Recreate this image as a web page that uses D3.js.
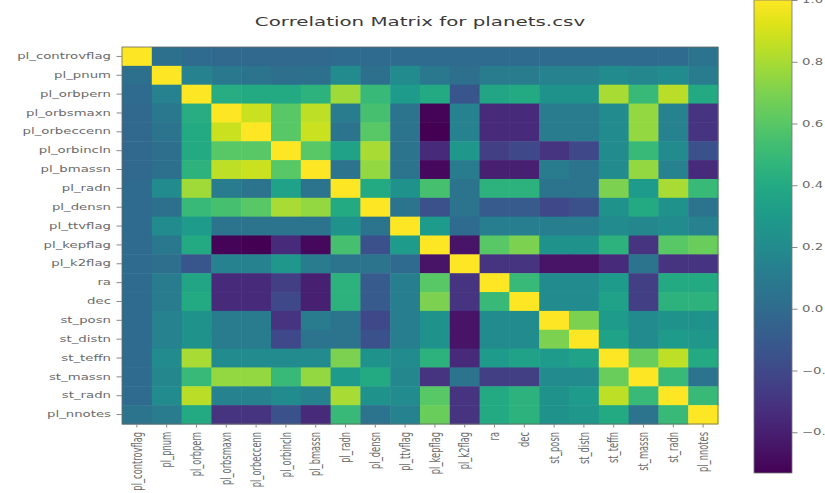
<!DOCTYPE html>
<html>
<head>
<meta charset="utf-8">
<script src="https://cdn.jsdelivr.net/npm/d3@7"></script>
<style>
  html, body { margin: 0; padding: 0; background: #fff; }
  svg { display: block; font-family: "DejaVu Sans", sans-serif; }
</style>
</head>
<body>
<div id="chart"></div>
<script>
// column names of planets.csv
const labels = [
  'pl_controvflag', 'pl_pnum', 'pl_orbpern', 'pl_orbsmaxn', 'pl_orbeccenn',
  'pl_orbincln', 'pl_bmassn', 'pl_radn', 'pl_densn', 'pl_ttvflag',
  'pl_kepflag', 'pl_k2flag', 'ra', 'dec', 'st_posn',
  'st_distn', 'st_teffn', 'st_massn', 'st_radn', 'pl_nnotes'
];

// correlation matrix, one row per column
const corr = [
  [1.00, 0.03, 0.00, -0.02, -0.02, -0.02, -0.02, 0.00, 0.00, 0.00, 0.00, 0.00, 0.00, 0.00, 0.00, 0.00, 0.00, 0.00, 0.00, 0.05],
  [0.03, 1.00, 0.15, 0.08, 0.05, 0.02, 0.03, 0.20, 0.03, 0.20, 0.08, 0.02, 0.10, 0.10, 0.15, 0.15, 0.20, 0.18, 0.20, 0.10],
  [0.00, 0.15, 1.00, 0.42, 0.40, 0.40, 0.45, 0.78, 0.50, 0.30, 0.40, -0.12, 0.37, 0.40, 0.25, 0.25, 0.80, 0.50, 0.84, 0.40],
  [-0.02, 0.08, 0.42, 1.00, 0.88, 0.60, 0.85, 0.10, 0.55, 0.05, -0.52, 0.15, -0.35, -0.35, 0.10, 0.10, 0.20, 0.75, 0.15, -0.30],
  [-0.02, 0.05, 0.40, 0.88, 1.00, 0.60, 0.88, 0.05, 0.60, 0.05, -0.532, 0.15, -0.35, -0.35, 0.10, 0.10, 0.20, 0.75, 0.15, -0.30],
  [-0.02, 0.02, 0.40, 0.60, 0.60, 1.00, 0.60, 0.35, 0.80, 0.05, -0.35, 0.28, -0.25, -0.20, -0.30, -0.20, 0.20, 0.50, 0.20, -0.15],
  [-0.02, 0.03, 0.45, 0.85, 0.88, 0.60, 1.00, 0.05, 0.75, 0.05, -0.50, 0.10, -0.40, -0.40, 0.10, 0.05, 0.20, 0.75, 0.15, -0.35],
  [0.00, 0.20, 0.78, 0.10, 0.05, 0.35, 0.05, 1.00, 0.40, 0.25, 0.55, 0.05, 0.45, 0.45, 0.05, 0.05, 0.70, 0.30, 0.80, 0.50],
  [0.00, 0.03, 0.50, 0.55, 0.60, 0.80, 0.75, 0.40, 1.00, 0.05, -0.15, 0.05, -0.10, -0.10, -0.20, -0.15, 0.25, 0.40, 0.25, 0.05],
  [0.00, 0.20, 0.30, 0.05, 0.05, 0.05, 0.05, 0.25, 0.05, 1.00, 0.30, 0.00, 0.12, 0.12, 0.12, 0.12, 0.20, 0.18, 0.20, 0.15],
  [0.00, 0.08, 0.40, -0.52, -0.532, -0.35, -0.50, 0.55, -0.15, 0.30, 1.00, -0.45, 0.60, 0.70, 0.25, 0.25, 0.45, -0.30, 0.60, 0.65],
  [0.00, 0.02, -0.12, 0.15, 0.15, 0.28, 0.10, 0.05, 0.05, 0.00, -0.45, 1.00, -0.30, -0.30, -0.45, -0.45, -0.35, 0.05, -0.30, -0.30],
  [0.00, 0.10, 0.37, -0.35, -0.35, -0.25, -0.40, 0.45, -0.10, 0.12, 0.60, -0.30, 1.00, 0.50, 0.20, 0.20, 0.30, -0.25, 0.40, 0.40],
  [0.00, 0.10, 0.40, -0.35, -0.35, -0.20, -0.40, 0.45, -0.10, 0.12, 0.70, -0.30, 0.50, 1.00, 0.20, 0.20, 0.35, -0.25, 0.45, 0.45],
  [0.00, 0.15, 0.25, 0.10, 0.10, -0.30, 0.10, 0.05, -0.20, 0.12, 0.25, -0.45, 0.20, 0.20, 1.00, 0.70, 0.30, 0.20, 0.25, 0.25],
  [0.00, 0.15, 0.25, 0.10, 0.10, -0.20, 0.05, 0.05, -0.15, 0.12, 0.25, -0.45, 0.20, 0.20, 0.70, 1.00, 0.35, 0.20, 0.30, 0.28],
  [0.00, 0.20, 0.80, 0.20, 0.20, 0.20, 0.20, 0.70, 0.25, 0.20, 0.45, -0.35, 0.30, 0.35, 0.30, 0.35, 1.00, 0.65, 0.85, 0.40],
  [0.00, 0.18, 0.50, 0.75, 0.75, 0.50, 0.75, 0.30, 0.40, 0.18, -0.30, 0.05, -0.25, -0.25, 0.20, 0.20, 0.65, 1.00, 0.50, 0.05],
  [0.00, 0.20, 0.84, 0.15, 0.15, 0.20, 0.15, 0.80, 0.25, 0.20, 0.60, -0.30, 0.40, 0.45, 0.25, 0.30, 0.85, 0.50, 1.00, 0.50],
  [0.05, 0.10, 0.40, -0.30, -0.30, -0.15, -0.35, 0.50, 0.05, 0.15, 0.65, -0.30, 0.40, 0.45, 0.25, 0.28, 0.40, 0.05, 0.50, 1.00]
];

const cbTicks = [-0.4, -0.2, 0.0, 0.2, 0.4, 0.6, 0.8, 1.0];

const title = 'Correlation Matrix for planets.csv';

const width = 825, height = 493;
// the picture is stretched sideways, so text gets the same squash
const sx = 1.6;

const svg = d3.select('#chart').append('svg')
  .attr('width', width)
  .attr('height', height);

const x = d3.scaleBand().domain(labels).range([122, 718]);
const y = d3.scaleBand().domain(labels).range([47, 424]);

const vmin = d3.min(corr.flat());
const vmax = d3.max(corr.flat());
const color = d3.scaleSequential(d3.interpolateViridis).domain([vmin, vmax]);

// cells
const cells = [];
corr.forEach((row, i) => row.forEach((v, j) => cells.push({ r: labels[i], c: labels[j], v })));

svg.append('g').selectAll('rect')
  .data(cells)
  .enter()
  .append('rect')
  .attr('x', d => x(d.c))
  .attr('y', d => y(d.r))
  .attr('width', x.bandwidth() + 0.5)
  .attr('height', y.bandwidth() + 0.5)
  .attr('fill', d => color(d.v));

svg.append('rect')
  .attr('x', 122).attr('y', 47)
  .attr('width', 596).attr('height', 377)
  .attr('fill', 'none')
  .attr('stroke', '#666')
  .attr('stroke-width', 0.8);

// y axis
const yAxis = svg.append('g')
  .attr('transform', 'translate(122,0)')
  .call(d3.axisLeft(y).tickSize(5.5).tickPadding(0));
yAxis.select('.domain').remove();
yAxis.selectAll('line').attr('stroke', '#888');
yAxis.selectAll('text')
  .attr('x', null)
  .attr('transform', `translate(-11,0) scale(${sx},1)`)
  .attr('font-size', 8.3)
  .attr('font-family', 'DejaVu Sans')
  .attr('fill', '#6a6a6a');

// x axis
const xAxis = svg.append('g')
  .attr('transform', 'translate(0,424)')
  .call(d3.axisBottom(x).tickSize(3.5).tickPadding(0));
xAxis.select('.domain').remove();
xAxis.selectAll('line').attr('stroke', '#888');
xAxis.selectAll('text')
  .attr('y', null)
  .attr('dy', '0.35em')
  .attr('text-anchor', 'end')
  .attr('transform', `translate(0,8) scale(${sx},1) rotate(-90)`)
  .attr('font-size', 8.3)
  .attr('font-family', 'DejaVu Sans')
  .attr('fill', '#6a6a6a');

// title
svg.append('text')
  .attr('transform', `translate(420,26) scale(${sx},1)`)
  .attr('text-anchor', 'middle')
  .attr('font-size', 12.4)
  .attr('fill', '#3a3a3a')
  .text(title);

// colorbar
const cbX = 754, cbW = 38;
const cbY = d3.scaleLinear().domain([vmin, vmax]).range([473, 0]);

const grad = svg.append('defs').append('linearGradient')
  .attr('id', 'cbgrad')
  .attr('x1', 0).attr('y1', 1).attr('x2', 0).attr('y2', 0);
d3.range(0, 1.0001, 0.05).forEach(t => {
  grad.append('stop')
    .attr('offset', t)
    .attr('stop-color', d3.interpolateViridis(t));
});

svg.append('rect')
  .attr('x', cbX).attr('y', cbY(vmax))
  .attr('width', cbW).attr('height', cbY(vmin) - cbY(vmax))
  .attr('fill', 'url(#cbgrad)')
  .attr('stroke', '#777')
  .attr('stroke-width', 0.8);

const cbAxis = svg.append('g')
  .attr('transform', `translate(${cbX + cbW},0)`)
  .call(d3.axisRight(cbY).tickValues(cbTicks).tickFormat(d3.format('.1f')).tickSize(5.5).tickPadding(0));
cbAxis.select('.domain').remove();
cbAxis.selectAll('line').attr('stroke', '#888');
cbAxis.selectAll('text')
  .attr('x', null)
  .attr('transform', `translate(10,0) scale(${sx},1)`)
  .attr('font-size', 8.3)
  .attr('font-family', 'DejaVu Sans')
  .attr('fill', '#6a6a6a');
</script>
</body>
</html>
